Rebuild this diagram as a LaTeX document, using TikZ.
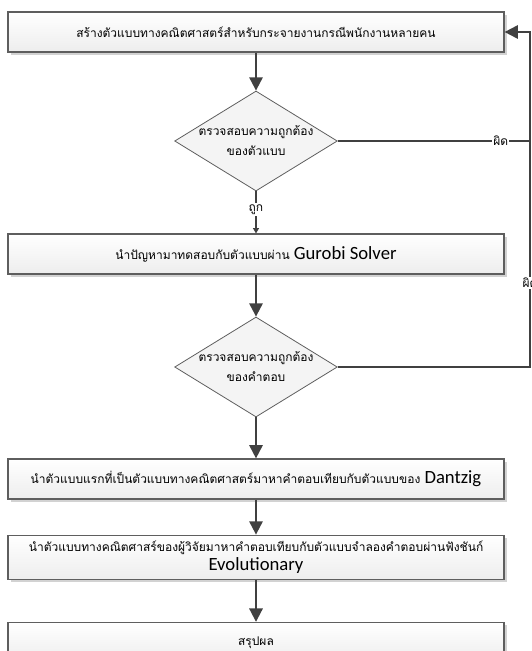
\documentclass[tikz,border=0pt]{standalone}
\usepackage{fontspec}
\setmainfont{Carlito}
\newfontfamily\thaifont[Script=Thai]{Loma}
\usetikzlibrary{positioning, shapes.geometric, shadows, arrows.meta}

\definecolor{linegray}{HTML}{404040}
\definecolor{boxedge}{HTML}{5E5E5E}
\newcommand{\thai}[1]{{\thaifont\fontsize{9}{11}\selectfont #1}}

\begin{document}
\begin{tikzpicture}[
        node distance=31.5pt,
        box/.style={rectangle, draw=boxedge, line width=0.9pt, top color=white, bottom color=gray!14,
            minimum width=372pt, minimum height=30pt, inner sep=0pt, align=center, font=\fontsize{14}{15}\selectfont,
            drop shadow={shadow xshift=2.2pt, shadow yshift=-2.2pt, fill=gray!35, opacity=1}},
        check/.style={diamond, draw=boxedge, line width=0.6pt, fill=gray!9, minimum width=122pt, minimum height=75pt, inner sep=0pt},
        checktext/.style={align=center, font=\thaifont\fontsize{9}{15}\selectfont},
        arrow/.style={-{Triangle[width=10pt, length=10pt]}, draw=linegray, line width=1.5pt},
        rail/.style={draw=linegray, line width=1.5pt},
        tag/.style={fill=white, inner sep=1pt, font=\thaifont\fontsize{9}{10}\selectfont}
    ]
    \useasboundingbox (0,0) rectangle (399pt,-488.25pt);

    % Top: model
    \node[box] (model) at (192pt,-24pt) {\thai{สร้างตัวแบบทางคณิตศาสตร์สำหรับกระจายงานกรณีพนักงานหลายคน}};

    % First check
    \node[check, below=28.5pt of model, label={[checktext, name=checkmodeltext]center:ตรวจสอบความถูกต้อง\\ของตัวแบบ}] (checkmodel) {};

    % Gurobi
    \node[box, below=of checkmodel] (gurobi) {\thai{นำปัญหามาทดสอบกับตัวแบบผ่าน} Gurobi Solver};

    % Second check
    \node[check, below=of gurobi, label={[checktext, name=checkanswertext]center:ตรวจสอบความถูกต้อง\\ของคำตอบ}] (checkanswer) {};

    % Comparisons
    \node[box, below=30.75pt of checkanswer] (dantzig) {\thai{นำตัวแบบแรกที่เป็นตัวแบบทางคณิตศาสตร์มาหาคำตอบเทียบกับตัวแบบของ} Dantzig};
    \node[box, minimum height=33pt, below=26.25pt of dantzig] (evo) {\thai{นำตัวแบบทางคณิตศาสร์ของผู้วิจัยมาหาคำตอบเทียบกับตัวแบบจำลองคำตอบผ่านฟังชันก์}\\[-1pt]Evolutionary};

    % Bottom: conclusion
    \node[box, below=of evo] (summary) {\thai{สรุปผล}};

    % Feedback rail
    \coordinate (railtop) at (397.5pt,-24pt);
    \coordinate (railmodel) at (checkmodel.east -| railtop);
    \coordinate (railanswer) at (checkanswer.east -| railtop);

    % Arrows
    \draw[arrow] (model) -- (checkmodel);
    \draw[rail] (checkmodel.south) -- ([yshift=-9pt]checkmodel.south);
    \node[tag, below=9pt of checkmodel.south, anchor=north] (right) {ถูก};
    \draw[draw=linegray, line width=1.5pt, -{Triangle[width=4.5pt, length=4pt]}] (right) -- (gurobi);
    \draw[arrow] (gurobi) -- (checkanswer);
    \draw[arrow] (checkanswer) -- (dantzig);
    \draw[arrow] (dantzig) -- (evo);
    \draw[arrow] (evo) -- (summary);

    \draw[rail] (checkmodel.east) -- (railmodel);
    \draw[arrow] (checkanswer.east) -- (railanswer) -- (railtop) -- (model.east);
    \node[tag] (wrongmodel) at ([xshift=-22pt]railmodel) {ผิด};
    \node[tag] (wronganswer) at ([yshift=-188pt]railtop) {ผิด};

\end{tikzpicture}
\end{document}
